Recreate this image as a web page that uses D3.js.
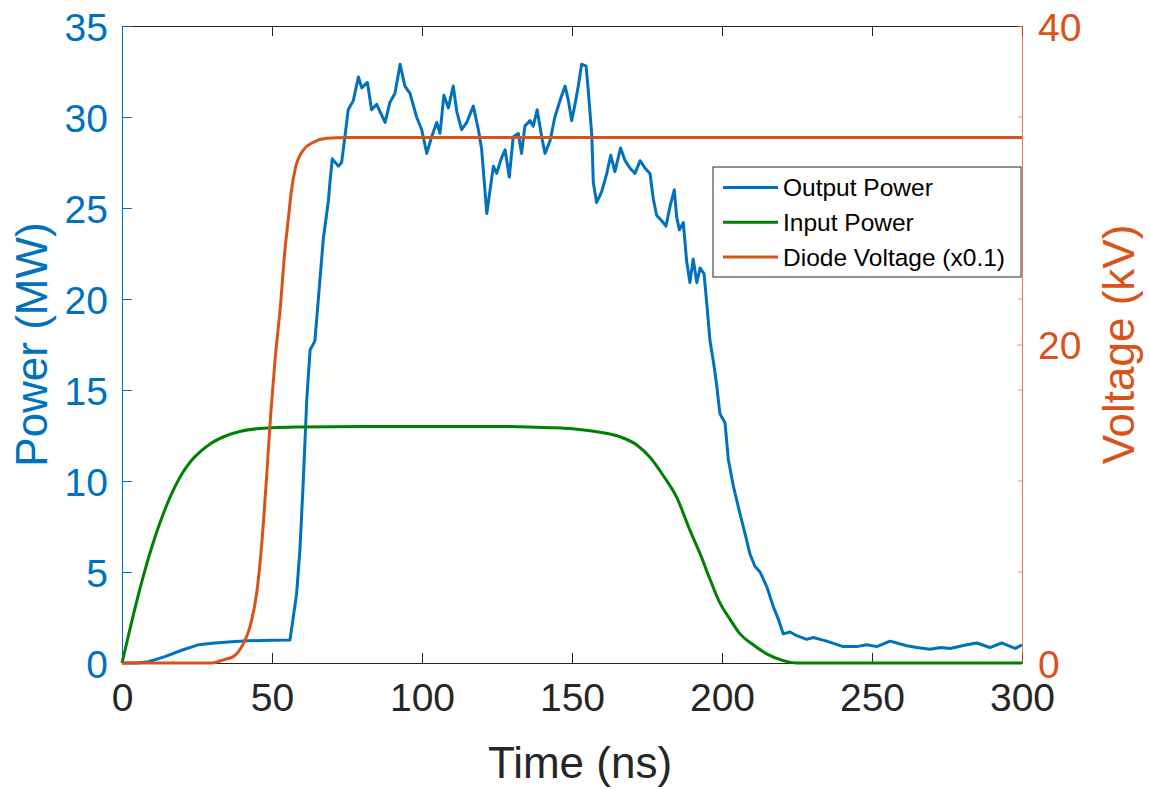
<!DOCTYPE html>
<html lang="en">
<head>
  <meta charset="UTF-8">
  <title>Output / Input Power and Diode Voltage</title>
  <style>
    body { margin: 0; background: #fff; font-family: "Liberation Sans", Arial, sans-serif; }
    .curve { fill: none; stroke-width: 3px; stroke-linejoin: round; }
  </style>
</head>
<body>
  <svg id="chart" width="1150" height="789"></svg>
  <script src="https://cdn.jsdelivr.net/npm/d3@7/dist/d3.min.js"></script>
  <script>
    // Output power (MW) vs time (ns)
    const outTime = [0, 5, 8.8, 14.3, 19.9, 25.4, 31, 36.6, 42, 50, 56, 58.2, 59.3, 60.4, 61.6, 62.7, 64.3, 65.4, 67.1, 68.8,
      69.3, 70.1, 72.1, 73.2, 74.3, 75.4, 77.1, 78.8, 79.9, 81.8, 83.2, 84.9, 86, 87.7, 89.3, 91, 92.7, 94.3, 96, 98.2,
      99.9, 101.6, 103.2, 104.9, 106, 107.3, 108.8, 110.4, 111.6, 113.2, 114.9, 117.1, 118.8, 119.9, 121.6, 122.7, 123.8, 124.9, 126.6, 127.7,
      129.1, 130.4, 132.1, 133.2, 134.3, 136, 137.1, 138.4, 139.9, 141, 142.7, 144.3, 146, 147.7, 148.8, 149.9, 151, 152.1, 153.2, 154.7,
      155.4, 156.6, 157.1, 158.2, 159.9, 161.6, 162.9, 164.3, 166.2, 167.7, 169.3, 171, 172.7, 174.3, 176, 177.1, 178.2, 179.9, 181.3, 182.7,
      184.1, 184.9, 185.8, 187.1, 188.2, 189.3, 190.4, 191.6, 192.7, 194, 194.9, 196, 197.1, 198.2, 199.3, 201, 202.1, 203.8, 206, 207.7,
      209.3, 211, 212.7, 214.9, 217.1, 218.8, 220.4, 222.7, 224.9, 228.2, 230.4, 234.9, 240.4, 244.9, 248.2, 251.6, 256, 261.6, 265, 269.3,
      273, 276, 281.6, 284.9, 289.3, 293.2, 297.7, 300];
    const outPower = [0, 0, 0.07, 0.35, 0.7, 1.0, 1.1, 1.17, 1.22, 1.25, 1.26, 3.8, 6.2, 9.9, 14.5, 17.2, 17.7, 19.9, 23.3, 25.4,
      26.4, 27.7, 27.3, 27.5, 28.9, 30.4, 30.9, 32.2, 31.6, 31.9, 30.4, 30.7, 30.3, 29.7, 30.8, 31.3, 32.9, 31.7, 31.3, 30.0,
      29.3, 28.0, 28.9, 29.7, 29.1, 31.2, 30.5, 31.7, 30.3, 29.3, 29.7, 30.6, 29.3, 28.2, 24.7, 26.0, 27.3, 26.9, 27.8, 28.2,
      26.7, 28.9, 29.1, 28.0, 29.5, 29.8, 29.5, 30.4, 28.9, 28.0, 28.7, 30.0, 30.9, 31.7, 30.9, 29.8, 30.7, 31.7, 32.9, 32.8,
      31.5, 29.0, 26.4, 25.3, 25.9, 26.9, 27.9, 27.0, 28.3, 27.6, 27.2, 26.9, 27.6, 27.2, 26.9, 25.5, 24.6, 24.3, 24.0, 25.1,
      26.0, 24.5, 23.8, 24.2, 22.1, 20.9, 22.2, 20.9, 21.7, 21.4, 19.8, 17.7, 16.6, 15.3, 13.7, 13.2, 11.2, 9.7, 8.2, 7.1,
      6.0, 5.3, 5.0, 4.2, 3.1, 2.4, 1.6, 1.7, 1.5, 1.3, 1.4, 1.2, 0.9, 0.9, 1.0, 0.9, 1.2, 0.95, 0.85, 0.75,
      0.85, 0.8, 1.0, 1.1, 0.85, 1.1, 0.8, 1.0];

    // Input power (MW)
    const inTime = [0, 2, 4, 6, 8, 10, 12, 14, 16, 18, 20, 23, 26, 30, 35, 40, 45, 50, 60, 80,
      126, 142.7, 151.6, 159.3, 166, 171.6, 176, 180.4, 184.9, 189.3, 192.7, 196, 199.3, 202.7, 206, 210.4, 214.9, 220.4, 225, 300];
    const inPower = [0, 1.4, 2.8, 4.1, 5.3, 6.4, 7.4, 8.3, 9.1, 9.8, 10.4, 11.1, 11.6, 12.1, 12.5, 12.75, 12.87, 12.93, 12.97, 13,
      13, 12.93, 12.84, 12.68, 12.43, 11.98, 11.3, 10.3, 9.1, 7.3, 6.0, 4.6, 3.3, 2.4, 1.6, 1.0, 0.5, 0.13, 0, 0];

    // Diode voltage (kV, right axis)
    const vTime = [0, 30, 33.8, 37.1, 40.4, 42.7, 44.9, 46.6, 48.2, 49.6, 51, 52.7, 54.3, 55.5, 56.5, 57.7, 60.4, 63.8, 68.2, 75, 300];
    const vKV = [0, 0, 0.2, 0.4, 1.2, 2.3, 4.4, 7.5, 11.7, 15.7, 19.0, 22.2, 25.9, 28.0, 29.7, 31.0, 32.2, 32.7, 32.95, 33, 33];

    const xTicks = [0, 50, 100, 150, 200, 250, 300];
    const powerTicks = [0, 5, 10, 15, 20, 25, 30, 35];
    const voltTicks = [0, 20, 40];
    const legendLabels = ["Output Power", "Input Power", "Diode Voltage (x0.1)"];

    const BLUE = "#0072BD", GREEN = "#008000", ORANGE = "#D95319", DARK = "#262626";

    const margin = { top: 26, right: 128, bottom: 126, left: 122 };
    const W = 1150, H = 789;
    const w = W - margin.left - margin.right;
    const h = H - margin.top - margin.bottom;

    const svg = d3.select("#chart");
    const g = svg.append("g").attr("transform", `translate(${margin.left},${margin.top})`);

    const x = d3.scaleLinear().domain([0, 300]).range([0, w]);
    const yL = d3.scaleLinear().domain([0, 35]).range([h, 0]);
    const yR = d3.scaleLinear().domain([0, 40]).range([h, 0]);

    // axes
    const fontTick = "39px";
    const xAxis = g.append("g").attr("transform", `translate(0,${h})`)
      .call(d3.axisBottom(x).tickValues(xTicks).tickSize(-10).tickPadding(20));
    xAxis.selectAll("line").attr("stroke", DARK);
    xAxis.select(".domain").attr("stroke", DARK);
    xAxis.selectAll("text").attr("fill", DARK).style("font-size", fontTick)
      .style("font-family", "Liberation Sans, Arial, sans-serif").attr("dy", "0.72em");

    const topAxis = g.append("g")
      .call(d3.axisTop(x).tickValues(xTicks).tickSize(-10).tickFormat(""));
    topAxis.selectAll("line").attr("stroke", DARK);
    topAxis.select(".domain").attr("stroke", DARK);

    const leftAxis = g.append("g")
      .call(d3.axisLeft(yL).tickValues(powerTicks).tickSize(-10).tickPadding(14));
    leftAxis.selectAll("line").attr("stroke", BLUE);
    leftAxis.select(".domain").attr("stroke", BLUE);
    leftAxis.selectAll("text").attr("fill", BLUE).style("font-size", fontTick)
      .style("font-family", "Liberation Sans, Arial, sans-serif").attr("dy", "0.36em");

    // right axis: labels at 0/20/40, small marks also at the left tick heights
    const rightAxis = g.append("g").attr("transform", `translate(${w},0)`)
      .call(d3.axisRight(yR).tickValues(voltTicks).tickSize(-5).tickPadding(16));
    rightAxis.selectAll("line").attr("stroke", ORANGE).attr("stroke-opacity", 0.6);
    rightAxis.select(".domain").attr("stroke", ORANGE).attr("stroke-opacity", 0.75);
    rightAxis.selectAll("text").attr("fill", ORANGE).style("font-size", fontTick)
      .style("font-family", "Liberation Sans, Arial, sans-serif").attr("dy", "0.36em");
    g.append("g").selectAll("line")
      .data(powerTicks.slice(1, -1))
      .join("line")
      .attr("x1", w - 4).attr("x2", w)
      .attr("y1", d => yL(d)).attr("y2", d => yL(d))
      .attr("stroke", ORANGE).attr("stroke-opacity", 0.6);

    // curves
    const linePow = d3.line().x(d => x(d[0])).y(d => yL(d[1]));
    const lineSmooth = d3.line().x(d => x(d[0])).y(d => yL(d[1])).curve(d3.curveMonotoneX);
    const lineVolt = d3.line().x(d => x(d[0])).y(d => yR(d[1])).curve(d3.curveMonotoneX);

    g.append("path").attr("class", "curve").attr("stroke", BLUE)
      .attr("d", linePow(outTime.map((t, i) => [t, outPower[i]])));
    g.append("path").attr("class", "curve").attr("stroke", GREEN)
      .attr("d", lineSmooth(inTime.map((t, i) => [t, inPower[i]])));
    g.append("path").attr("class", "curve").attr("stroke", ORANGE)
      .attr("d", lineVolt(vTime.map((t, i) => [t, vKV[i]])));

    // axis titles
    const fontTitle = "44px";
    svg.append("text").attr("x", 580).attr("y", 778).attr("text-anchor", "middle")
      .attr("fill", DARK).style("font-size", fontTitle).text("Time (ns)");
    svg.append("text").attr("transform", `translate(47,${margin.top + h / 2}) rotate(-90)`)
      .attr("text-anchor", "middle").attr("fill", BLUE).style("font-size", fontTitle).text("Power (MW)");
    svg.append("text").attr("transform", `translate(1134,${margin.top + h / 2}) rotate(-90)`)
      .attr("text-anchor", "middle").attr("fill", ORANGE).style("font-size", fontTitle).text("Voltage (kV)");

    // legend
    const legendColors = [BLUE, GREEN, ORANGE];
    const lg = svg.append("g").attr("transform", "translate(713,167)");
    lg.append("rect").attr("width", 308).attr("height", 110)
      .attr("fill", "#fff").attr("stroke", DARK).attr("stroke-width", 1);
    const item = lg.selectAll("g.item").data(legendLabels).join("g")
      .attr("class", "item")
      .attr("transform", (d, i) => `translate(0,${20.5 + i * 34.8})`);
    item.append("line").attr("x1", 10).attr("x2", 65)
      .attr("stroke", (d, i) => legendColors[i]).attr("stroke-width", 3);
    item.append("text").attr("x", 70).attr("dy", "0.36em")
      .attr("fill", "#000").style("font-size", "24.5px").text(d => d);
  </script>
</body>
</html>
